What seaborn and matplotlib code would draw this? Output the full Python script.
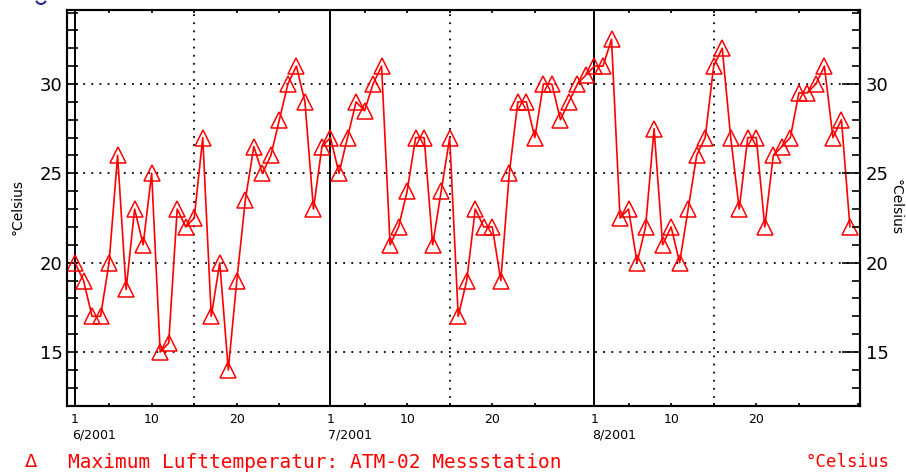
import matplotlib
matplotlib.use("Agg")
import matplotlib.pyplot as plt
import matplotlib.dates as mdates
from matplotlib.patches import Arc
from matplotlib.ticker import MultipleLocator, FuncFormatter
import pandas as pd
import seaborn as sns

# ---- data ----
june = [20, 19, 17, 17, 20, 26, 18.5, 23, 21, 25, 15, 15.5, 23, 22, 22.5,
        27, 17, 20, 14, 19, 23.5, 26.5, 25, 26, 28, 30, 31, 29, 23, 26.5]
july = [27, 25, 27, 29, 28.5, 30, 31, 21, 22, 24, 27, 27, 21, 24, 27, 17,
        19, 23, 22, 22, 19, 25, 29, 29, 27, 30, 30, 28, 29, 30, 30.5]
aug = [31, 31, 32.5, 22.5, 23, 20, 22, 27.5, 21, 22, 20, 23, 26, 27, 31, 32,
       27, 23, 27, 27, 22, 26, 26.5, 27, 29.5, 29.5, 30, 31, 27, 28, 22]
start_date = "2001-06-01"
month_starts = ["2001-06-01", "2001-07-01", "2001-08-01"]
month_mids = ["2001-06-15", "2001-07-15", "2001-08-15"]
month_labels = ["6/2001", "7/2001", "8/2001"]
y_major = [15, 20, 25, 30]
series_label = "Maximum Lufttemperatur: ATM-02 Messstation"
unit = "°Celsius"

temps = june + july + aug
dates = pd.date_range(start_date, periods=len(temps), freq="D")
df = pd.DataFrame({"date": dates, "temp": temps})

sns.set_theme(style="white")
plt.rcParams['font.family'] = ['DejaVu Sans']

W, H = 906, 474
fig = plt.figure(figsize=(W / 100, H / 100), dpi=100)
ax = fig.add_axes([67 / W, 1 - 406 / H, (860 - 67) / W, (406 - 10) / H])

t0 = pd.Timestamp(start_date)
t_end = dates[-1]
ax.set_xlim(t0 - pd.Timedelta(days=0.94), t0 + pd.Timedelta(days=92.18))
ylim = (11.98, 34.14)
ax.set_ylim(*ylim)

dot = (0, (1, 3.5))
for ms in month_starts:
    ax.axvline(pd.Timestamp(ms), color="black", lw=1.4, zorder=1)
for mm in month_mids:
    ax.axvline(pd.Timestamp(mm), color="black", lw=1.3, ls=dot, zorder=1)
for yv in y_major:
    ax.axhline(yv, color="black", lw=1.3, ls=dot, zorder=1)

sns.lineplot(data=df, x="date", y="temp", ax=ax, color="red", lw=1.2,
             marker="^", markersize=11, markerfacecolor="none",
             markeredgecolor="red", markeredgewidth=1.1, zorder=3)


def day_label(v, pos):
    d = mdates.num2date(v).replace(tzinfo=None)
    if d > t_end.to_pydatetime():
        return ""
    return str(d.day)


# x axis
ax.xaxis.set_major_locator(mdates.DayLocator(bymonthday=[1, 10, 20]))
ax.xaxis.set_minor_locator(mdates.DayLocator(bymonthday=[5, 15, 25]))
ax.xaxis.set_major_formatter(FuncFormatter(day_label))
ax.tick_params(axis="x", which="both", direction="in", top=True, bottom=True,
               length=2.5, width=1.2, color="black", labelsize=9, pad=5,
               labelcolor="black")
for ms, lab in zip(month_starts, month_labels):
    ax.text(pd.Timestamp(ms) - pd.Timedelta(days=0.3), -0.058, lab,
            transform=ax.get_xaxis_transform(), ha="left", va="top",
            fontsize=9, color="black")

# left y axis
ax.set_yticks(y_major)
ax.yaxis.set_minor_locator(MultipleLocator(1))
ax.tick_params(axis="y", which="both", direction="in", left=True, right=False,
               length=8, width=1.2, color="black", labelsize=13, pad=3,
               labelcolor="black")
ax.set_xlabel("")
ax.set_ylabel("")

# right y axis
ax2 = ax.twinx()
ax2.set_ylim(*ylim)
ax2.set_yticks(y_major)
ax2.yaxis.set_minor_locator(MultipleLocator(1))
ax2.tick_params(axis="y", which="major", direction="in", length=13, width=1.2,
                color="black", labelsize=13, pad=4, labelcolor="black")
ax2.tick_params(axis="y", which="minor", direction="in", length=6, width=1.2,
                color="black")
ax2.grid(False)
ax.grid(False)

for a in (ax, ax2):
    for s in a.spines.values():
        s.set_color("black")
        s.set_linewidth(1.5)

# axis titles
fig.text(18 / W, 1 - 207 / H, unit, rotation=90, ha="center", va="center",
         fontsize=10, color="black")
fig.text(896 / W, 1 - 207 / H, unit, rotation=270, ha="center", va="center",
         fontsize=10, color="black")

# legend line at the bottom
fig.text(31 / W, 1 - 462 / H, "Δ", ha="center", va="center", fontsize=13,
         color="red")
fig.text(68 / W, 1 - 462 / H, series_label, ha="left", va="center",
         fontsize=14, color="red", family="DejaVu Sans Mono")
fig.text(890 / W, 1 - 462 / H, unit, ha="right", va="center", fontsize=12.5,
         color="red", family="DejaVu Sans Mono")

# cut-off blue mark at the very top left (drawn as a shape, not text)
fig.add_artist(Arc((41, H + 1), 10, 10, theta1=200, theta2=340,
                   transform=None, color="#2a2a9a", lw=1.5))

fig.savefig("out.png", dpi=100)
